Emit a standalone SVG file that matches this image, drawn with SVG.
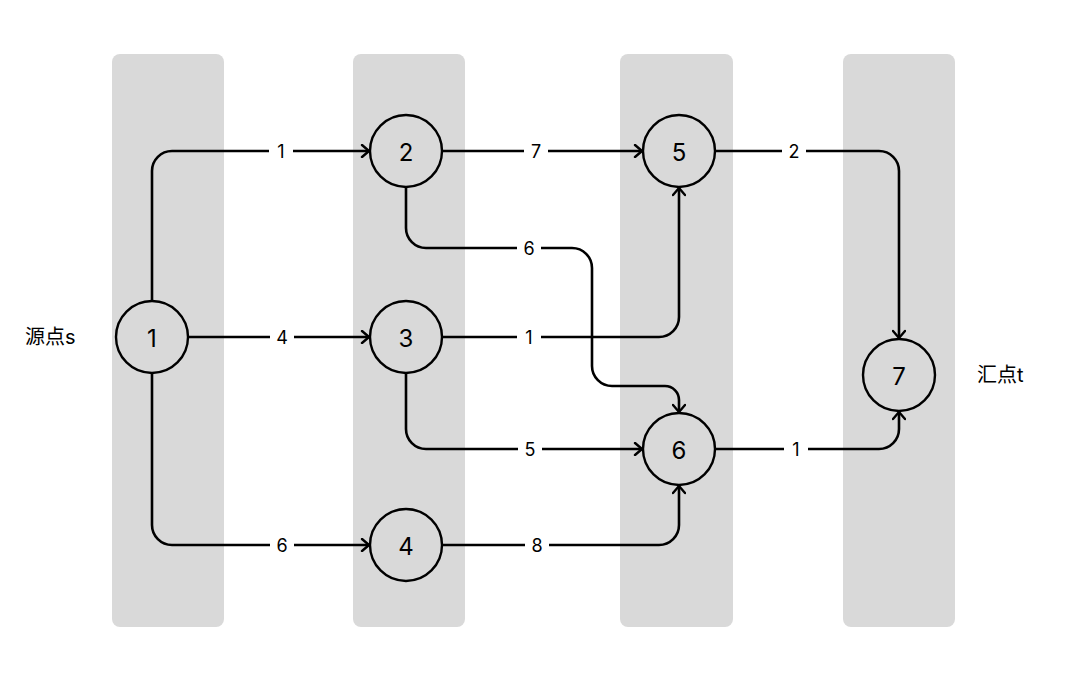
<svg xmlns="http://www.w3.org/2000/svg" width="1070" height="682" viewBox="0 0 1070 682">
<style>
.col{fill:#d9d9d9}
.node circle{fill:#d9d9d9;stroke:#000;stroke-width:2.4}
.node text{font-family:Inter,"Liberation Sans",sans-serif;font-size:24px;text-anchor:middle;dominant-baseline:central;fill:#000}
.edge{fill:none;stroke:#000;stroke-width:2.6;marker-end:url(#arr)}
.lblbg{fill:#fff}
.lbl{font-family:Inter,"Liberation Sans",sans-serif;font-size:18px;text-anchor:middle;dominant-baseline:central;fill:#000}
.side{font-family:Inter,"Noto Sans CJK SC",sans-serif;font-size:20px;dominant-baseline:central;fill:#000}
</style>
<defs>
<marker id="arr" markerUnits="userSpaceOnUse" markerWidth="14" markerHeight="14" viewBox="0 0 14 14" refX="12" refY="7" orient="auto">
<path d="M5,1 L12,7 L5,13" fill="none" stroke="#000" stroke-width="2.4" stroke-linecap="round" stroke-linejoin="round"/>
</marker>
</defs>
<rect width="1070" height="682" fill="#fff"/>
<g id="columns">
<rect class="col" x="112" y="54" width="112" height="573" rx="8"/>
<rect class="col" x="353" y="54" width="112" height="573" rx="8"/>
<rect class="col" x="620" y="54" width="113" height="573" rx="8"/>
<rect class="col" x="843" y="54" width="112" height="573" rx="8"/>
</g>
<g id="connectors">
<path class="edge" d="M152,301 V171 A20,20 0 0 1 172,151 H369"/>
<path class="edge" d="M188,337 H369"/>
<path class="edge" d="M152,373 V525 A20,20 0 0 0 172,545 H369"/>
<path class="edge" d="M442,151 H642"/>
<path class="edge" d="M406,187 V228 A20,20 0 0 0 426,248 H572 A20,20 0 0 1 592,268 V366 A20,20 0 0 0 612,386 H665 A14,14 0 0 1 679,400 V412"/>
<path class="edge" d="M442,337 H659 A20,20 0 0 0 679,317 V188"/>
<path class="edge" d="M406,373 V429 A20,20 0 0 0 426,449 H642"/>
<path class="edge" d="M442,545 H659 A20,20 0 0 0 679,525 V486"/>
<path class="edge" d="M715,151 H879 A20,20 0 0 1 899,171 V338"/>
<path class="edge" d="M715,449 H879 A20,20 0 0 0 899,429 V412"/>
<g id="edge-labels">
<rect class="lblbg" x="269" y="141" width="24" height="20"/><text class="lbl" x="281" y="151">1</text>
<rect class="lblbg" x="270" y="327" width="24" height="20"/><text class="lbl" x="282" y="337">4</text>
<rect class="lblbg" x="270" y="535" width="24" height="20"/><text class="lbl" x="282" y="545">6</text>
<rect class="lblbg" x="524" y="141" width="24" height="20"/><text class="lbl" x="536" y="151">7</text>
<rect class="lblbg" x="517" y="238" width="24" height="20"/><text class="lbl" x="529" y="248">6</text>
<rect class="lblbg" x="517" y="327" width="24" height="20"/><text class="lbl" x="529" y="337">1</text>
<rect class="lblbg" x="518" y="439" width="24" height="20"/><text class="lbl" x="530" y="449">5</text>
<rect class="lblbg" x="525" y="535" width="24" height="20"/><text class="lbl" x="537" y="545">8</text>
<rect class="lblbg" x="782" y="141" width="24" height="20"/><text class="lbl" x="794" y="151">2</text>
<rect class="lblbg" x="784" y="439" width="24" height="20"/><text class="lbl" x="796" y="449">1</text>
</g>
</g>
<g id="node1" class="node"><circle cx="152" cy="337" r="36"/><text x="152" y="338">1</text></g>
<g id="node2" class="node"><circle cx="406" cy="151" r="36"/><text x="406" y="152">2</text></g>
<g id="node3" class="node"><circle cx="406" cy="337" r="36"/><text x="406" y="338">3</text></g>
<g id="node4" class="node"><circle cx="406" cy="545" r="36"/><text x="406" y="546">4</text></g>
<g id="node5" class="node"><circle cx="679" cy="151" r="36"/><text x="679" y="152">5</text></g>
<g id="node6" class="node"><circle cx="679" cy="449" r="36"/><text x="679" y="450">6</text></g>
<g id="node7" class="node"><circle cx="899" cy="375" r="36"/><text x="899" y="376">7</text></g>
<g id="source-label"><text class="side" x="25" y="337">源点s</text></g>
<g id="sink-label"><text class="side" x="977" y="375">汇点t</text></g>
</svg>
